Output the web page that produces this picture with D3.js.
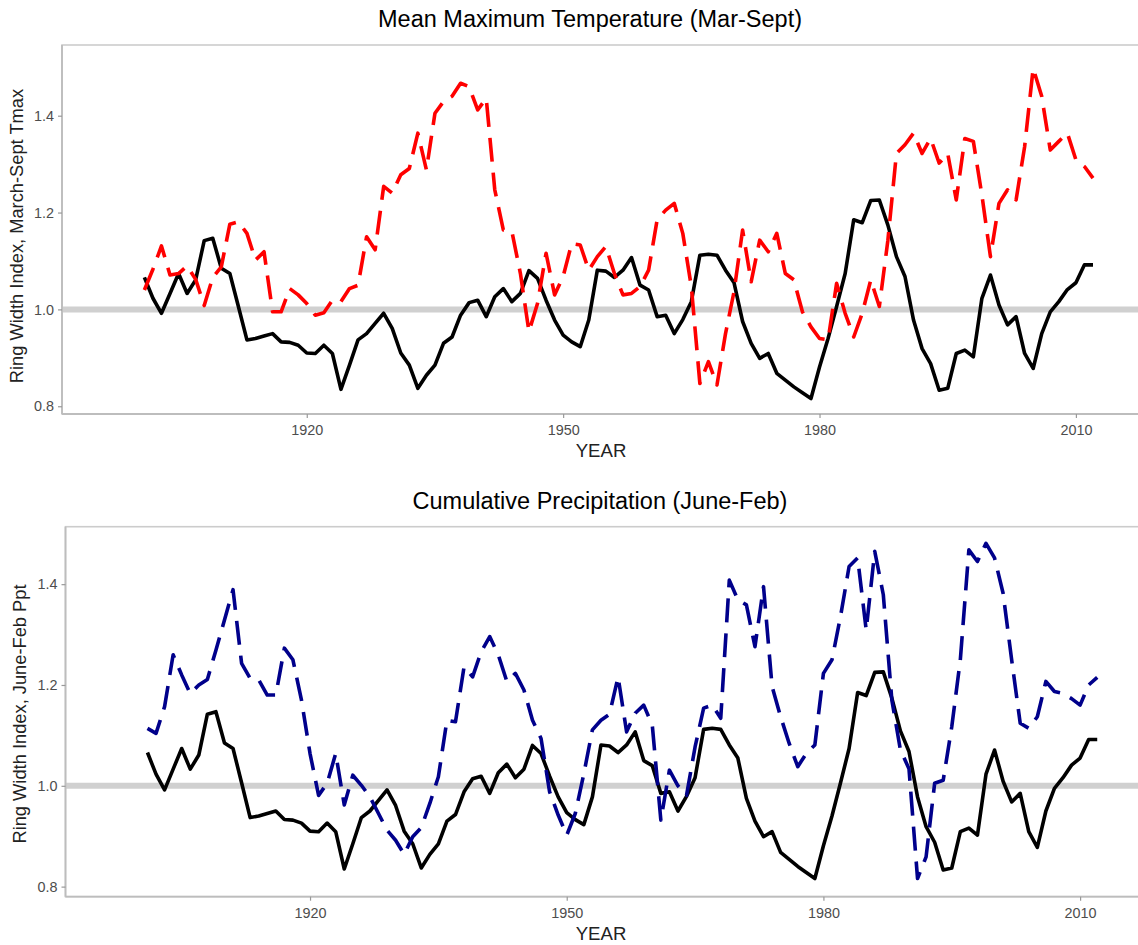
<!DOCTYPE html>
<html><head><meta charset="utf-8">
<script src="https://cdn.jsdelivr.net/npm/d3@7"></script>
<style>
body{margin:0;background:#fff}
svg{display:block;font-family:"Liberation Sans",Arial,Helvetica,sans-serif}
</style>
</head><body>
<svg id="chart" width="1138" height="945"></svg>
<script>
const years = d3.range(1901, 2013);

const ringWidth = [
1.066,1.023,0.992,1.033,1.074,1.033,1.061,1.142,1.147,1.085,
1.074,1.006,0.937,0.940,0.945,0.950,0.933,0.932,0.926,0.910,
0.909,0.926,0.909,0.835,0.885,0.937,0.950,0.971,0.992,0.961,
0.910,0.885,0.837,0.864,0.885,0.930,0.943,0.988,1.014,1.019,
0.985,1.026,1.043,1.016,1.033,1.080,1.064,1.019,0.978,0.947,
0.933,0.923,0.978,1.081,1.079,1.066,1.081,1.107,1.050,1.040,
0.985,0.988,0.950,0.979,1.016,1.112,1.114,1.112,1.081,1.055,
0.975,0.930,0.899,0.909,0.868,0.854,0.840,0.828,0.816,0.881,
0.940,1.006,1.074,1.185,1.179,1.225,1.226,1.174,1.109,1.068,
0.978,0.919,0.888,0.833,0.837,0.909,0.916,0.902,1.023,1.071,
1.009,0.968,0.985,0.909,0.878,0.950,0.995,1.016,1.041,1.055,
1.092,1.092];

const tmaxIndex = [
1.040,1.083,1.131,1.071,1.074,1.090,1.062,1.008,1.066,1.088,
1.176,1.181,1.157,1.102,1.119,0.995,0.995,1.043,1.030,1.012,
0.988,0.993,1.019,1.016,1.043,1.050,1.150,1.123,1.254,1.240,
1.278,1.291,1.364,1.288,1.405,1.429,1.440,1.467,1.460,1.412,
1.436,1.247,1.164,1.161,1.074,0.954,1.012,1.116,1.030,1.068,
1.136,1.133,1.081,1.109,1.130,1.074,1.030,1.033,1.047,1.081,
1.185,1.205,1.219,1.157,1.047,0.847,0.892,0.844,0.950,1.037,
1.164,1.057,1.143,1.119,1.157,1.074,1.061,0.995,0.964,0.940,
0.937,1.054,0.992,0.943,0.992,1.061,1.006,1.143,1.322,1.340,
1.364,1.322,1.353,1.302,1.322,1.226,1.353,1.347,1.236,1.109,
1.219,1.247,1.226,1.336,1.498,1.440,1.329,1.347,1.364,1.309,
1.295,1.271];

const pptIndex = [
1.114,1.104,1.157,1.260,1.220,1.183,1.200,1.211,1.269,1.329,
1.389,1.243,1.213,1.210,1.180,1.180,1.273,1.250,1.170,1.064,
0.981,1.005,1.064,0.962,1.021,1.001,0.978,0.945,0.912,0.892,
0.864,0.899,0.917,0.965,1.018,1.130,1.127,1.236,1.216,1.266,
1.296,1.260,1.207,1.223,1.190,1.130,1.094,0.988,0.942,0.902,
0.945,1.024,1.111,1.130,1.142,1.216,1.107,1.144,1.160,1.120,
0.932,1.031,1.000,0.981,1.077,1.154,1.160,1.134,1.408,1.369,
1.359,1.276,1.395,1.197,1.137,1.084,1.038,1.064,1.081,1.223,
1.250,1.336,1.435,1.452,1.309,1.465,1.379,1.170,1.071,1.034,
0.816,0.859,1.005,1.011,1.117,1.250,1.468,1.445,1.481,1.452,
1.382,1.250,1.124,1.114,1.137,1.207,1.187,1.183,1.173,1.160,
1.200,1.215];

const xTickValues = [1920, 1950, 1980, 2010];
const yTickValues = [0.8, 1.0, 1.2, 1.4];
const panelTitles = ["Mean Maximum Temperature (Mar-Sept)", "Cumulative Precipitation (June-Feb)"];
const yAxisTitles = ["Ring Width Index, March-Sept Tmax", "Ring Width Index, June-Feb Ppt"];
const xAxisTitle = "YEAR";
const referenceLevel = 1.0;

const svg = d3.select("#chart");

const panels = [
  {left:62, right:1140, top:45, bottom:414, xDomain:[1891.36, 2017.5], yDomain:[0.784, 1.546],
   climate: tmaxIndex, color:"#ff0000", title: panelTitles[0], yTitle: yAxisTitles[0],
   titleX:590, titleBase:27.3, yTitleX:23.3, yTitleY:236},
  {left:65.5, right:1140, top:526.7, bottom:896.7, xDomain:[1891.42, 2017.0], yDomain:[0.780, 1.514],
   climate: pptIndex, color:"#00008b", title: panelTitles[1], yTitle: yAxisTitles[1],
   titleX:600, titleBase:508.5, yTitleX:25.5, yTitleY:714}
];

const axisGray = "#bdbdbd";
const textGray = "#4d4d4d";

panels.forEach(p => {
  const x = d3.scaleLinear().domain(p.xDomain).range([p.left, p.right]);
  const y = d3.scaleLinear().domain(p.yDomain).range([p.bottom, p.top]);
  const g = svg.append("g");

  // panel border (top + right, mostly off-canvas on the right)
  g.append("rect").attr("x", p.left).attr("y", p.top)
    .attr("width", p.right - p.left).attr("height", p.bottom - p.top)
    .attr("fill", "none").attr("stroke", "#cccccc").attr("stroke-width", 1.6);

  // reference line at 1.0
  g.append("line").attr("x1", p.left).attr("x2", p.right)
    .attr("y1", y(referenceLevel)).attr("y2", y(referenceLevel))
    .attr("stroke", "#d0d0d0").attr("stroke-width", 6);

  const line = d3.line().x((d, i) => x(years[i])).y(d => y(d));

  g.append("path").datum(ringWidth).attr("d", line)
    .attr("fill", "none").attr("stroke", "#000").attr("stroke-width", 3.6)
    .attr("stroke-linejoin", "round");

  g.append("path").datum(p.climate).attr("d", line)
    .attr("fill", "none").attr("stroke", p.color).attr("stroke-width", 3.6)
    .attr("stroke-linejoin", "round").attr("stroke-dasharray", "24,11");

  // axes
  const xAxis = d3.axisBottom(x).tickValues(xTickValues).tickFormat(d3.format("d"))
    .tickSize(4).tickPadding(7);
  const gx = g.append("g").attr("transform", `translate(0,${p.bottom})`).call(xAxis);
  const yAxis = d3.axisLeft(y).tickValues(yTickValues).tickFormat(d3.format(".1f"))
    .tickSize(4).tickPadding(4);
  const gy = g.append("g").attr("transform", `translate(${p.left},0)`).call(yAxis);
  [gx, gy].forEach(a => {
    a.select(".domain").attr("stroke", axisGray).attr("stroke-width", 1.8);
    a.selectAll(".tick line").attr("stroke", "#999").attr("stroke-width", 1.2);
    a.selectAll(".tick text").attr("fill", textGray).style("font-size", "14.4px")
      .style("font-family", '"Liberation Sans",Arial,sans-serif');
  });
  gx.select(".domain").attr("d", `M${p.left},0H${p.right}`);
  gy.select(".domain").attr("d", `M0,${p.top}V${p.bottom}`);

  // titles
  g.append("text").attr("x", p.titleX).attr("y", p.titleBase).attr("text-anchor", "middle")
    .style("font-size", "23.5px").attr("fill", "#000").text(p.title);
  g.append("text").attr("x", 601).attr("y", p.bottom + 43).attr("text-anchor", "middle")
    .style("font-size", "18.6px").attr("fill", "#222").text(xAxisTitle);
  g.append("text").attr("transform", `translate(${p.yTitleX},${p.yTitleY}) rotate(-90)`)
    .attr("text-anchor", "middle").style("font-size", "18.3px").attr("fill", "#222").text(p.yTitle);
});
</script>
</body></html>
